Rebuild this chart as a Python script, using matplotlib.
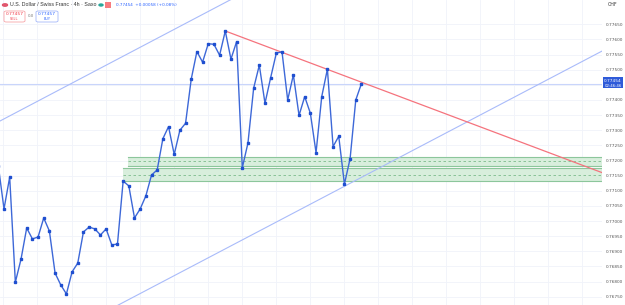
import numpy as np
import matplotlib
matplotlib.use("Agg")
import matplotlib.pyplot as plt
from matplotlib.patches import Rectangle, FancyBboxPatch

# cours de cloture (bougies 4h)
closes = [0.77182, 0.77040, 0.77145, 0.76798, 0.76874, 0.76977, 0.76941, 0.76947,
          0.77010, 0.76967, 0.76828, 0.76789, 0.76759, 0.76832, 0.76861, 0.76964,
          0.76980, 0.76974, 0.76954, 0.76974, 0.76921, 0.76924, 0.77132, 0.77116,
          0.77010, 0.77040, 0.77083, 0.77152, 0.77169, 0.77272, 0.77312, 0.77220,
          0.77300, 0.77323, 0.77469, 0.77560, 0.77525, 0.77586, 0.77584, 0.77548,
          0.77628, 0.77535, 0.77593, 0.77176, 0.77258, 0.77439, 0.77515, 0.77389,
          0.77474, 0.77555, 0.77559, 0.77400, 0.77483, 0.77349, 0.77411, 0.77356,
          0.77226, 0.77411, 0.77502, 0.77246, 0.77280, 0.77122, 0.77206, 0.77400,
          0.77454]
last_price = 0.77454

# lignes tracees (debut, fin) en (indice de bougie, prix)
resistance = [(40, 0.77628), (106.4, 0.77160)]
canal_bas = [(21.15, 0.767225), (106.43, 0.775619)]
canal_haut = [(0.29, 0.773305), (40.84, 0.777304)]

# zones de support (haut, bas, milieu, debut)
zones = [(0.772116, 0.771828, 0.771974, 22.9),
         (0.771752, 0.771313, 0.771531, 21.9)]

ticks = np.round(np.arange(0.7675, 0.77651, 0.0005), 5)

W, H = 625, 305
fig = plt.figure(figsize=(W / 100, H / 100), dpi=100)
ax = fig.add_axes([0, 0, 602 / W, 1])

x = np.arange(len(closes))
xmin, xmax = 0.294, 106.4
ax.set_xlim(xmin, xmax)
ax.set_ylim(0.767225, 0.777304)

# grille
for t in ticks:
    ax.axhline(t, color="#f0f3fa", lw=0.6, zorder=0)
for gx in np.arange(0.9, xmax, 6):
    ax.axvline(gx, color="#f0f3fa", lw=0.6, zorder=0)

# zones vertes
for top, bot, mid, start in zones:
    ax.add_patch(Rectangle((start, bot), xmax - start, top - bot,
                           facecolor="#d8eedc", edgecolor="none", zorder=1))
    ax.plot([start, xmax], [top, top], color="#8cc69b", lw=0.8, zorder=2)
    ax.plot([start, xmax], [bot, bot], color="#8cc69b", lw=0.8, zorder=2)
    ax.plot([start, xmax], [mid, mid], color="#7dbb8c", lw=0.6, ls=(0, (3, 3)), zorder=2)

# ligne du prix actuel
ax.axhline(last_price, color="#c9d5fb", lw=0.8, zorder=1)

# canal et resistance
def droite(pts, color, lw):
    (x0, y0), (x1, y1) = pts
    k = (y1 - y0) / (x1 - x0)
    xs = np.array([xmin - 5, xmax + 5])
    ax.plot(xs, y0 + k * (xs - x0), color=color, lw=lw, zorder=3)

droite(canal_bas, "#a9bbfa", 0.8)
droite(canal_haut, "#a9bbfa", 0.8)
ax.plot([resistance[0][0], resistance[1][0]], [resistance[0][1], resistance[1][1]],
        color="#f5737d", lw=0.9, zorder=3)

# serie
ax.plot(x, closes, color="#3d68d8", lw=1.0, marker="s", ms=1.7,
        mfc="#1f4fd0", mec="#1f4fd0", zorder=4)

ax.set_xticks([])
ax.yaxis.tick_right()
ax.set_yticks(ticks)
labels = [f"{t:.5f}" if abs(t - 0.7745) > 1e-6 else "" for t in ticks]
ax.set_yticklabels(labels, fontsize=3.1, color="#555555")
ax.tick_params(axis="y", length=0, pad=2.5)
for s in ax.spines.values():
    s.set_visible(False)

# etiquette du prix
def px(xp, yp):
    return xp / W, 1 - yp / H

fig.patches.append(Rectangle(px(603, 88.5), 20 / W, 11 / H, transform=fig.transFigure,
                             facecolor="#2f5bd9", edgecolor="none"))
fig.text(*px(613, 80.5), "0.77454", fontsize=3.1, color="white", ha="center", va="center")
fig.text(*px(613, 85.8), "02:46:46", fontsize=2.8, color="white", ha="center", va="center")
fig.text(*px(613, 5), "CHF", fontsize=3.4, color="#333333", ha="center", va="center")

# en-tete
fig.patches.append(plt.Circle(px(5, 5), 2.5 / W, transform=fig.transFigure,
                              color="#e0566d"))
fig.text(*px(10, 5), "U.S. Dollar / Swiss Franc · 4h · Saxo", fontsize=3.8,
         family="Liberation Sans", color="#333333", ha="left", va="center")
fig.patches.append(plt.Circle(px(101, 5), 2 / W, transform=fig.transFigure, color="#26a69a"))
fig.patches.append(Rectangle(px(105, 8), 6 / W, 6 / H, transform=fig.transFigure,
                             facecolor="#f77c80", edgecolor="none"))
fig.text(*px(116, 5), "0.77454  +0.00058 (+0.08%)", fontsize=3.0,
         color="#2962ff", ha="left", va="center")

fig.patches.append(FancyBboxPatch(px(4, 22), 21 / W, 11 / H, boxstyle="round,pad=0,rounding_size=0.004",
                                  transform=fig.transFigure, facecolor="white",
                                  edgecolor="#f7a5a9", lw=0.6))
fig.text(*px(14.5, 14), "0.77457", fontsize=3.2, color="#f23645", ha="center", va="center")
fig.text(*px(14.5, 19.5), "SELL", fontsize=2.5, color="#f23645", ha="center", va="center")
fig.text(*px(30.5, 16), "0.0", fontsize=2.8, color="#777777", ha="center", va="center")
fig.patches.append(FancyBboxPatch(px(36, 22), 22 / W, 11 / H, boxstyle="round,pad=0,rounding_size=0.004",
                                  transform=fig.transFigure, facecolor="white",
                                  edgecolor="#a5b8fa", lw=0.6))
fig.text(*px(47, 14), "0.77457", fontsize=3.2, color="#2962ff", ha="center", va="center")
fig.text(*px(47, 19.5), "BUY", fontsize=2.5, color="#2962ff", ha="center", va="center")

fig.savefig("out.png", dpi=100)
